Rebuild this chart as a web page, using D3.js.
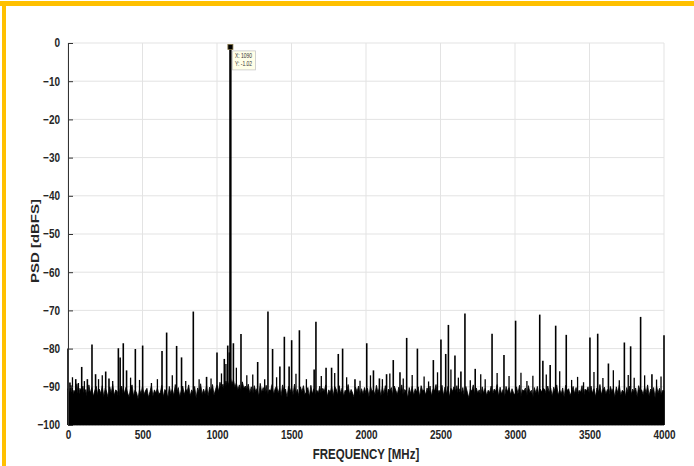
<!DOCTYPE html>
<html>
<head>
<meta charset="utf-8">
<script src="https://cdn.jsdelivr.net/npm/d3@7"></script>
<style>
  body { margin: 0; background: #fff; }
  svg { display: block; font-family: "Liberation Sans", Arial, sans-serif; }
</style>
</head>
<body>
<svg id="chart" width="694" height="466"></svg>
<script>
'use strict';

// noise floor, one value every 10 MHz from 0 to 3990
var floorStep = 10;
var floorDb = [
  -90.5,-91.8,-89.6,-92.4,-90.9,-91.5,-89.2,-92.8,-90.4,-91.1,-89.8,-92.2,-90.7,-93.0,-89.5,-91.6,-90.2,-92.5,-91.0,-89.9,
  -92.1,-90.6,-91.8,-89.7,-92.6,-90.3,-91.4,-92.9,-90.0,-91.7,-89.4,-92.3,-90.8,-91.2,-93.1,-90.5,-89.8,-92.0,-91.3,-90.1,
  -91.6,-92.7,-90.2,-89.5,-92.4,-90.9,-91.5,-93.2,-90.6,-91.9,-89.9,-92.1,-91.0,-90.4,-92.8,-91.3,-89.7,-92.5,-90.8,-91.7,
  -90.3,-92.0,-91.4,-89.6,-92.6,-90.7,-91.1,-93.0,-89.9,-91.8,-90.5,-92.3,-89.4,-91.6,-90.2,-92.7,-91.0,-89.8,-92.1,-90.6,
  -91.2,-89.5,-92.4,-90.8,-91.7,-89.9,-92.9,-90.3,-91.5,-89.2,-92.0,-90.6,-91.9,-89.7,-92.5,-90.1,-91.3,-89.4,-92.2,-90.7,
  -89.6,-91.2,-88.8,-90.5,-89.3,-91.0,-88.5,-90.2,-88.9,-87.6,-89.4,-88.2,-90.1,-89.0,-90.8,-89.5,-91.3,-88.7,-90.4,-89.8,
  -90.9,-89.3,-91.6,-90.0,-92.1,-89.7,-91.2,-90.4,-92.6,-89.1,-91.5,-90.2,-91.9,-89.6,-92.3,-90.8,-91.0,-89.4,-92.0,-90.5,
  -89.8,-91.7,-90.3,-92.4,-89.5,-91.1,-90.6,-92.8,-89.9,-91.4,-90.1,-92.2,-89.3,-91.8,-90.7,-92.5,-90.0,-91.3,-89.7,-92.0,
  -91.4,-90.2,-92.7,-89.6,-91.9,-90.5,-92.3,-90.9,-91.6,-89.8,-92.1,-90.4,-91.2,-89.5,-92.6,-90.8,-91.5,-90.0,-92.4,-89.9,
  -90.6,-92.2,-89.7,-91.8,-90.3,-92.5,-90.9,-91.4,-89.4,-92.0,-90.7,-91.6,-92.8,-90.1,-91.3,-89.8,-92.3,-90.5,-91.9,-90.2,
  -91.7,-90.4,-92.6,-89.9,-91.2,-90.8,-92.1,-89.6,-91.5,-90.3,-92.4,-90.0,-91.8,-89.7,-92.7,-90.6,-91.1,-90.2,-92.3,-89.8,
  -90.9,-92.0,-90.1,-91.6,-89.5,-92.5,-90.7,-91.3,-92.9,-90.2,-91.8,-89.9,-92.2,-90.5,-91.4,-90.0,-92.6,-89.7,-91.1,-90.8,
  -92.1,-90.3,-91.7,-89.8,-92.4,-90.6,-91.0,-89.4,-92.0,-90.9,-91.5,-89.6,-92.3,-90.1,-91.9,-89.9,-92.7,-90.4,-91.2,-90.0,
  -91.3,-89.7,-92.2,-90.5,-91.8,-90.2,-92.6,-89.9,-91.4,-92.9,-90.7,-91.1,-89.5,-92.0,-90.3,-91.6,-90.8,-92.4,-90.0,-91.7,
  -90.4,-92.3,-90.9,-91.5,-89.8,-92.1,-90.6,-91.2,-89.4,-92.5,-90.1,-91.9,-90.7,-92.8,-89.9,-91.3,-90.2,-92.0,-90.5,-91.6,
  -92.2,-90.0,-91.8,-89.6,-92.6,-90.8,-91.1,-90.3,-92.4,-89.7,-91.5,-90.9,-92.9,-90.2,-91.7,-89.9,-92.1,-90.6,-91.4,-90.4,
  -90.7,-92.0,-89.8,-91.6,-90.4,-92.5,-90.1,-91.3,-89.5,-92.2,-90.8,-91.9,-90.3,-92.7,-89.6,-91.0,-90.5,-92.3,-91.2,-89.9,
  -91.8,-90.2,-92.4,-90.9,-91.4,-89.7,-92.8,-90.6,-91.1,-90.0,-92.1,-89.8,-91.7,-90.5,-92.6,-90.3,-91.5,-89.4,-92.0,-90.8,
  -90.1,-91.9,-90.7,-92.3,-89.9,-91.2,-90.4,-92.7,-90.0,-91.6,-89.6,-92.2,-90.9,-91.3,-92.5,-90.2,-91.8,-89.8,-92.0,-90.6,
  -91.5,-90.3,-92.6,-89.7,-91.1,-90.8,-92.1,-90.0,-91.7,-89.5,-92.4,-90.6,-91.3,-90.2,-92.8,-89.9,-91.6,-90.4,-92.2,-91.0
];

// spurs above the floor
var spurFreq = [0, 13, 52, 92, 130, 161, 185, 253, 275, 338, 350, 371, 393, 452, 501,
  631, 662, 729, 762, 841, 930, 1000, 1049, 1072, 1083, 1110, 1161, 1273, 1342, 1373,
  1422, 1452, 1484, 1501, 1553, 1652, 1664, 1732, 1769, 1814, 1843, 1926, 2005, 2050,
  2090, 2138, 2183, 2228, 2273, 2345, 2452, 2503, 2535, 2553, 2597, 2637, 2664, 2733,
  2846, 2926, 3004, 3166, 3187, 3236, 3273, 3344, 3503, 3555, 3627, 3734, 3776, 3843,
  3919, 4000];
var spurDb = [-80.0, -88.9, -88.0, -84.8, -88.0, -78.9, -86.7, -86.0, -87.8, -79.9, -82.3, -78.6, -85.7, -80.1, -79.2,
  -80.6, -75.8, -79.3, -82.3, -70.3, -87.4, -81.0, -82.7, -79.2, -81.0, -78.6, -76.2, -83.5, -70.3, -80.1,
  -84.7, -76.9, -84.7, -77.8, -75.2, -85.5, -73.0, -85.0, -85.0, -81.4, -80.0, -88.0, -78.6, -85.7,
  -87.8, -86.7, -83.0, -86.2, -77.2, -80.0, -83.0, -77.6, -81.4, -73.8, -81.8, -86.0, -70.8, -85.3,
  -76.1, -81.7, -72.7, -71.1, -83.2, -84.3, -74.0, -76.4, -77.1, -76.1, -83.9, -78.4, -79.4, -71.7,
  -86.7, -76.5];

// short spikes just above the floor
var smallFreq = [30, 70, 110, 205, 230, 300, 420, 480, 560, 600, 700, 790, 880, 960, 1030,
  1060, 1130, 1200, 1240, 1320, 1400, 1530, 1600, 1700, 1790, 1870, 1960, 2030, 2110, 2160,
  2250, 2310, 2390, 2420, 2480, 2570, 2620, 2700, 2770, 2800, 2880, 2960, 3040, 3080, 3120,
  3210, 3300, 3380, 3420, 3460, 3530, 3590, 3660, 3700, 3760, 3800, 3870, 3950, 3980];
var smallDb = [-87.5, -89.0, -88.5, -88.0, -87.0, -88.5, -87.6, -88.2, -89.0, -88.0, -87.0, -88.5, -88.0, -87.8, -86.5,
  -84.0, -85.0, -87.0, -86.8, -88.0, -87.5, -86.6, -88.0, -87.2, -86.4, -87.5, -88.4, -87.0, -88.0, -86.5,
  -87.8, -86.9, -87.3, -88.6, -86.2, -85.5, -87.6, -88.3, -86.7, -88.0, -86.4, -87.2, -86.3, -88.5, -87.1,
  -86.8, -85.9, -88.2, -87.4, -88.8, -86.1, -87.7, -85.7, -88.3, -86.9, -87.6, -87.0, -88.1, -87.3];

// the tone
var toneFreq = 1090;
var toneDb = -1.02;

var xTicks = [0, 500, 1000, 1500, 2000, 2500, 3000, 3500, 4000];
var yTicks = [0, -10, -20, -30, -40, -50, -60, -70, -80, -90, -100];

var svg = d3.select('#chart');
var pl = 68, pr = 664, pt = 43, pb = 425;
var stretch = 1.3; // the figure was stretched vertically, text too

// orange frame
svg.append('rect').attr('x', 0).attr('y', 1).attr('width', 694).attr('height', 5).attr('fill', '#ffc000');
svg.append('rect').attr('x', 2).attr('y', 1).attr('width', 4).attr('height', 465).attr('fill', '#ffc000');

var x = d3.scaleLinear().domain([0, 4000]).range([pl, pr]);
var y = d3.scaleLinear().domain([-100, 0]).range([pb, pt]);

// grid
svg.append('g').selectAll('line').data(xTicks).enter().append('line')
  .attr('x1', function (d) { return x(d); }).attr('x2', function (d) { return x(d); })
  .attr('y1', pt).attr('y2', pb)
  .attr('stroke', '#e3e3e3').attr('stroke-width', 1);
svg.append('g').selectAll('line').data(yTicks).enter().append('line')
  .attr('x1', pl).attr('x2', pr)
  .attr('y1', function (d) { return y(d); }).attr('y2', function (d) { return y(d); })
  .attr('stroke', '#e3e3e3').attr('stroke-width', 1);

// noise floor
var floorPts = floorDb.map(function (v, i) { return [i * floorStep, v]; });
floorPts.push([4000, floorDb[floorDb.length - 1]]);
var area = d3.area()
  .x(function (d) { return x(d[0]); })
  .y0(y(-100))
  .y1(function (d) { return y(d[1]); });
svg.append('path').datum(floorPts)
  .attr('d', area)
  .attr('fill', '#000').attr('stroke', '#000').attr('stroke-width', 0.8);

function spikes(freqs, levels, w) {
  svg.append('g').selectAll('line').data(freqs).enter().append('line')
    .attr('x1', function (d) { return x(d); }).attr('x2', function (d) { return x(d); })
    .attr('y1', y(-100))
    .attr('y2', function (d, i) { return y(levels[i]); })
    .attr('stroke', '#000').attr('stroke-width', w);
}
spikes(smallFreq, smallDb, 1.3);
spikes(spurFreq, spurDb, 1.6);
spikes([toneFreq], [toneDb], 2.4);

// left axis
var yAxis = d3.axisLeft(y).tickValues(yTicks).tickSizeInner(-5).tickSizeOuter(0).tickPadding(8);
var gy = svg.append('g').attr('transform', 'translate(' + pl + ',0)').call(yAxis);
gy.select('.domain').attr('stroke', '#333');
gy.selectAll('.tick line').attr('stroke', '#333');
gy.selectAll('.tick text').attr('fill', '#262626')
  .attr('dy', '0.3em')
  .attr('transform', 'scale(1,' + stretch + ')')
  .style('font-size', '10px').style('font-weight', 'bold');

// bottom axis labels
var xAxis = d3.axisBottom(x).tickValues(xTicks).tickSize(0).tickPadding(4).tickFormat(d3.format('d'));
var gx = svg.append('g').attr('transform', 'translate(0,' + pb + ')').call(xAxis);
gx.select('.domain').remove();
gx.selectAll('.tick text').attr('fill', '#262626')
  .attr('transform', 'scale(1,' + stretch + ')')
  .style('font-size', '10px').style('font-weight', 'bold');

// axis titles
svg.append('text')
  .attr('transform', 'translate(' + ((pl + pr) / 2) + ',459) scale(1,' + stretch + ')')
  .attr('text-anchor', 'middle').attr('fill', '#262626')
  .style('font-size', '11.5px').style('font-weight', 'bold')
  .text('FREQUENCY [MHz]');
svg.append('text')
  .attr('transform', 'translate(39,241) rotate(-90) scale(' + stretch + ',1)')
  .attr('text-anchor', 'middle').attr('fill', '#262626')
  .style('font-size', '11.5px').style('font-weight', 'bold')
  .text('PSD [dBFS]');

// data tip
var tx = x(toneFreq), ty = y(toneDb);
svg.append('rect').attr('x', tx - 2.5).attr('y', ty - 2.5).attr('width', 5).attr('height', 5)
  .attr('fill', '#000').attr('stroke', '#807040').attr('stroke-width', 0.8);
svg.append('rect').attr('x', tx + 2).attr('y', ty + 4).attr('width', 23).attr('height', 19)
  .attr('fill', '#ffffe8').attr('stroke', '#c8c8c8').attr('stroke-width', 0.8);
svg.append('text')
  .attr('transform', 'translate(' + (tx + 4.5) + ',' + (ty + 11) + ') scale(1,' + stretch + ')')
  .attr('fill', '#333').style('font-size', '5px').text('X: ' + toneFreq);
svg.append('text')
  .attr('transform', 'translate(' + (tx + 4.5) + ',' + (ty + 19) + ') scale(1,' + stretch + ')')
  .attr('fill', '#333').style('font-size', '5px').text('Y: ' + toneDb);
</script>
</body>
</html>
